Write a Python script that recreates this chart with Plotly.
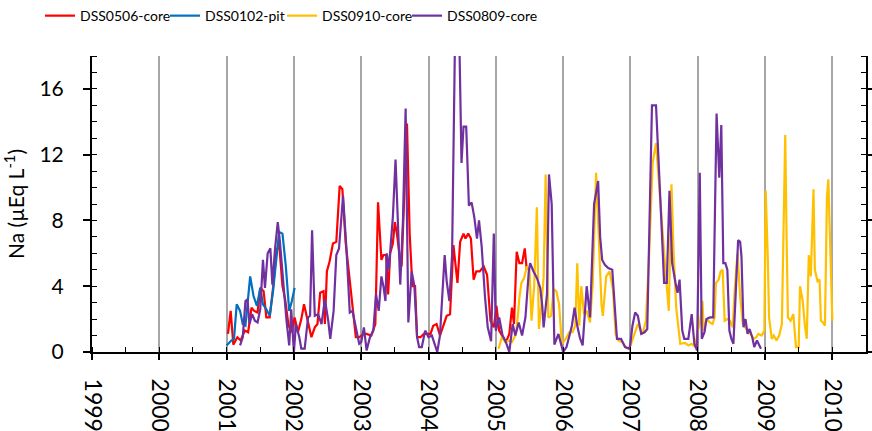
import plotly.graph_objects as go

# ---------------- data ----------------
red_x = [2001.02, 2001.06, 2001.10, 2001.16, 2001.21, 2001.27, 2001.32, 2001.37, 2001.41, 2001.46,
         2001.50, 2001.55, 2001.59, 2001.64, 2001.69, 2001.74, 2001.78, 2001.83, 2001.87, 2001.92,
         2001.97, 2002.01, 2002.06, 2002.11, 2002.15, 2002.20, 2002.26, 2002.31, 2002.35, 2002.39,
         2002.44, 2002.46, 2002.49, 2002.53, 2002.58, 2002.63, 2002.68, 2002.72, 2002.77, 2002.81,
         2002.87, 2002.92, 2002.97, 2003.04, 2003.08, 2003.15, 2003.21, 2003.25, 2003.30, 2003.33,
         2003.37, 2003.40, 2003.43, 2003.47, 2003.50, 2003.53, 2003.57, 2003.60, 2003.68, 2003.72,
         2003.76, 2003.80, 2003.83, 2003.88, 2003.93, 2003.98, 2004.03, 2004.07, 2004.12, 2004.17,
         2004.22, 2004.27, 2004.32, 2004.37, 2004.43, 2004.47, 2004.52, 2004.55, 2004.59, 2004.63,
         2004.67, 2004.71, 2004.76, 2004.82, 2004.87, 2004.92, 2004.97, 2005.01, 2005.05, 2005.10,
         2005.15, 2005.20, 2005.24, 2005.27, 2005.31, 2005.35, 2005.39, 2005.43, 2005.46]
red_y = [1.1, 2.5, 0.45, 0.9, 0.7, 1.3, 1.2, 2.7, 2.5, 2.4,
         3.9, 3.7, 2.1, 2.1, 3.9, 6.1, 6.6, 4.0, 3.2, 1.6,
         1.2, 2.1, 1.2, 2.0, 2.9, 2.0, 0.9, 1.5, 1.7, 3.6,
         3.7, 1.7, 4.9, 5.5, 6.6, 6.7, 10.1, 9.9, 6.6, 5.1,
         2.7, 0.9, 0.9, 1.1, 1.1, 1.0, 1.7, 9.1, 5.6, 5.9,
         5.9, 3.5, 6.0, 6.6, 7.9, 7.2, 5.9, 5.2, 13.9, 7.2,
         4.0, 4.0, 0.9, 0.9, 1.1, 1.1, 1.1, 1.6, 1.7, 1.0,
         1.6, 2.2, 2.3, 6.5, 4.2, 6.7, 7.2, 6.9, 7.2, 6.9,
         4.4, 4.9, 4.9, 5.2, 4.7, 1.9, 1.5, 2.8, 1.3, 0.9,
         0.6, 1.1, 2.7, 1.7, 6.1, 5.4, 5.4, 6.3, 5.0]

blue_x = [2001.00, 2001.07, 2001.11, 2001.15, 2001.20, 2001.24, 2001.28, 2001.35, 2001.40, 2001.45,
          2001.50, 2001.54, 2001.59, 2001.64, 2001.69, 2001.74, 2001.78, 2001.83, 2001.88, 2001.93,
          2001.97, 2002.01]
blue_y = [0.4, 0.7, 0.8, 2.9, 2.5, 1.7, 1.6, 4.6, 3.4, 2.8,
          3.9, 2.9, 2.6, 2.2, 3.7, 5.9, 7.3, 7.2, 5.2, 2.5,
          3.1, 3.9]

yellow_x = [2005.04, 2005.09, 2005.14, 2005.19, 2005.24, 2005.30, 2005.33, 2005.35, 2005.38, 2005.42,
            2005.46, 2005.50, 2005.53, 2005.57, 2005.61, 2005.64, 2005.68, 2005.71, 2005.74, 2005.78,
            2005.82, 2005.86, 2005.90, 2005.94, 2005.98, 2006.04, 2006.09, 2006.14, 2006.18, 2006.21,
            2006.24, 2006.27, 2006.31, 2006.35, 2006.40, 2006.44, 2006.49, 2006.53, 2006.57, 2006.59,
            2006.64, 2006.69, 2006.74, 2006.78, 2006.82, 2006.88, 2006.93, 2006.97, 2007.01, 2007.06,
            2007.11, 2007.18, 2007.23, 2007.28, 2007.33, 2007.38, 2007.43, 2007.48, 2007.52, 2007.57,
            2007.61, 2007.64, 2007.68, 2007.74, 2007.81, 2007.86, 2007.91, 2007.96, 2008.00, 2008.03,
            2008.07, 2008.09, 2008.13, 2008.18, 2008.22, 2008.25, 2008.27, 2008.31, 2008.34, 2008.37,
            2008.40, 2008.44, 2008.48, 2008.52, 2008.55, 2008.59, 2008.63, 2008.67, 2008.71, 2008.74,
            2008.78, 2008.83, 2008.87, 2008.90, 2008.95, 2008.99, 2009.01, 2009.04, 2009.06, 2009.10,
            2009.13, 2009.17, 2009.21, 2009.25, 2009.27, 2009.30, 2009.32, 2009.34, 2009.38, 2009.42,
            2009.46, 2009.50, 2009.52, 2009.56, 2009.59, 2009.62, 2009.65, 2009.68, 2009.72, 2009.74,
            2009.78, 2009.81, 2009.83, 2009.86, 2009.89, 2009.92, 2009.94, 2009.97, 2010.00]
yellow_y = [0.2, 0.9, 0.6, 0.7, 0.6, 1.1, 2.3, 3.3, 4.2, 4.5,
            5.2, 5.0, 1.9, 4.0, 8.8, 1.4, 3.0, 4.5, 10.8, 2.1,
            2.2, 3.8, 3.7, 2.9, 0.5, 0.8, 1.2, 1.2, 1.6, 5.4,
            1.6, 4.0, 2.3, 2.5, 1.8, 4.2, 10.9, 6.5, 2.9, 2.2,
            4.6, 4.9, 3.8, 1.1, 0.7, 0.6, 0.3, 0.2, 0.5, 1.1,
            1.7, 1.1, 1.9, 6.2, 11.5, 12.7, 9.8, 6.8, 5.0, 2.5,
            10.2, 6.2, 2.7, 0.5, 0.55, 0.4, 0.5, 0.3, 1.3, 1.7,
            3.1, 1.3, 2.0, 1.8, 1.7, 2.1, 4.2, 4.4, 4.9, 5.0,
            1.9, 2.0, 1.9, 1.5, 3.8, 6.0, 3.4, 1.7, 1.5, 1.3,
            1.1, 0.8, 0.9, 1.1, 1.0, 1.3, 9.8, 5.8, 2.1, 0.8,
            1.0, 0.7, 1.0, 1.7, 5.8, 13.2, 7.0, 2.1, 1.9, 2.3,
            0.3, 0.3, 4.0, 3.1, 1.7, 0.8, 5.9, 4.6, 9.9, 5.0,
            4.3, 4.4, 1.9, 1.8, 1.6, 9.4, 10.5, 6.0, 1.9]

purple_x = [2001.20, 2001.24, 2001.28, 2001.31, 2001.34, 2001.38, 2001.42, 2001.46, 2001.50, 2001.54,
            2001.57, 2001.61, 2001.65, 2001.68, 2001.72, 2001.76, 2001.79, 2001.84, 2001.89, 2001.93,
            2001.96, 2002.00, 2002.03, 2002.08, 2002.11, 2002.16, 2002.21, 2002.24, 2002.27, 2002.31,
            2002.36, 2002.41, 2002.46, 2002.51, 2002.54, 2002.59, 2002.63, 2002.67, 2002.73, 2002.78,
            2002.83, 2002.87, 2002.94, 2002.97, 2003.00, 2003.04, 2003.08, 2003.13, 2003.18, 2003.22,
            2003.26, 2003.30, 2003.33, 2003.36, 2003.38, 2003.41, 2003.47, 2003.51, 2003.58, 2003.62,
            2003.66, 2003.70, 2003.75, 2003.79, 2003.83, 2003.86, 2003.90, 2003.95, 2004.00, 2004.05,
            2004.13, 2004.17, 2004.24, 2004.27, 2004.31, 2004.35, 2004.39, 2004.42, 2004.46, 2004.49,
            2004.52, 2004.56, 2004.60, 2004.64, 2004.68, 2004.72, 2004.75, 2004.79, 2004.84, 2004.88,
            2004.93, 2004.97, 2005.00, 2005.05, 2005.10, 2005.15, 2005.20, 2005.25, 2005.29, 2005.34,
            2005.39, 2005.44, 2005.49, 2005.51, 2005.56, 2005.61, 2005.66, 2005.69, 2005.71, 2005.76,
            2005.79, 2005.83, 2005.87, 2005.93, 2006.00, 2006.05, 2006.10, 2006.13, 2006.17, 2006.21,
            2006.25, 2006.29, 2006.35, 2006.40, 2006.46, 2006.52, 2006.55, 2006.58, 2006.62, 2006.67,
            2006.73, 2006.76, 2006.80, 2006.86, 2006.92, 2006.99, 2007.03, 2007.07, 2007.11, 2007.16,
            2007.21, 2007.25, 2007.28, 2007.32, 2007.38, 2007.43, 2007.47, 2007.50, 2007.54, 2007.58,
            2007.62, 2007.67, 2007.70, 2007.73, 2007.77, 2007.80, 2007.86, 2007.91, 2007.95, 2007.99,
            2008.03, 2008.06, 2008.10, 2008.13, 2008.18, 2008.23, 2008.28, 2008.32, 2008.35, 2008.38,
            2008.41, 2008.44, 2008.47, 2008.50, 2008.53, 2008.58, 2008.60, 2008.63, 2008.65, 2008.68,
            2008.71, 2008.74, 2008.77, 2008.81, 2008.84, 2008.88, 2008.91, 2008.94]
purple_y = [0.4, 0.9, 3.1, 3.2, 1.7, 2.3, 1.9, 1.8, 2.6, 5.6,
            3.9, 6.0, 6.3, 4.1, 6.3, 7.9, 6.8, 4.2, 1.9, 0.4,
            2.6, 0.0, 1.7, 0.9, 0.2, 0.2, 2.1, 2.2, 7.4, 2.2,
            2.3, 1.7, 3.2, 1.9, 0.8, 2.5, 5.9, 6.3, 9.5, 6.3,
            2.4, 2.5, 1.1, 0.5, 0.6, 1.5, 0.1, 0.9, 1.3, 3.5,
            2.5, 4.6, 4.0, 3.1, 6.0, 5.0, 8.2, 11.7, 4.1, 8.0,
            14.8, 1.8, 4.9, 4.0, 0.9, 0.3, 0.3, 1.3, 0.9, 1.0,
            0.0, 1.0, 5.9, 4.3, 3.1, 5.9, 18.0, 21.0, 18.5, 11.5,
            13.7, 13.7, 8.9, 9.1, 8.2, 6.9, 8.0, 6.4, 3.3, 1.5,
            0.65, 7.2, 1.3, 2.1, 1.0, 0.6, 0.0, 1.7, 1.0, 1.8,
            1.0, 2.1, 4.9, 5.4, 4.9, 4.5, 3.9, 2.8, 1.5, 3.5,
            10.8, 9.0, 0.45, 1.1, 0.0, 0.3, 1.1, 1.6, 2.7, 1.6,
            0.85, 0.4, 4.0, 2.1, 9.0, 10.4, 7.0, 5.6, 5.3, 5.1,
            5.0, 2.9, 0.8, 0.8, 0.3, 0.2, 1.6, 2.4, 2.2, 1.1,
            1.2, 1.4, 7.8, 15.0, 15.0, 10.9, 7.0, 4.2, 4.2, 9.8,
            5.4, 4.2, 3.6, 4.4, 1.3, 0.8, 0.8, 2.3, 0.5, 0.1,
            10.9, 0.8, 1.2, 2.0, 2.1, 2.1, 14.5, 10.6, 13.8, 5.4,
            5.4, 5.0, 1.3, 0.8, 0.5, 5.0, 6.8, 6.7, 5.8, 1.5,
            2.0, 1.1, 1.4, 0.9, 0.3, 0.7, 0.4, 0.2]

year_ticks = list(range(1999, 2011))
y_ticks = [0, 4, 8, 12, 16]

series = [
    ("DSS0506-core", red_x, red_y, "#FF0000"),
    ("DSS0102-pit", blue_x, blue_y, "#0070C0"),
    ("DSS0910-core", yellow_x, yellow_y, "#FFC000"),
    ("DSS0809-core", purple_x, purple_y, "#7030A0"),
]

FONT = "Lato"
legend_ids = ["legend", "legend2", "legend3", "legend4"]
legend_left_px = [40, 165, 282, 407]   # left edge of each legend box (pixels from page left)
plot_left, plot_w = 92, 774

fig = go.Figure()
for (name, xs, ys, col), lid in zip(series, legend_ids):
    fig.add_trace(go.Scatter(x=xs, y=ys, mode="lines", name=name, legend=lid,
                             line=dict(color=col, width=2.2)))

legend_common = dict(orientation="h", xanchor="left", y=1.135, yanchor="middle",
                     font=dict(size=14, family=FONT), bgcolor="rgba(0,0,0,0)",
                     itemwidth=30)
legend_layout = {}
for lid, px in zip(legend_ids, legend_left_px):
    legend_layout[lid] = dict(x=(px - plot_left) / plot_w, **legend_common)

fig.update_layout(
    width=872, height=431,
    margin=dict(l=92, r=6, t=56, b=79, autoexpand=False),
    plot_bgcolor="white", paper_bgcolor="white",
    font=dict(family=FONT, color="black"),
    showlegend=True,
    **legend_layout,
)

fig.update_xaxes(
    range=[1999, 2010.5], tickmode="array", tickvals=year_ticks,
    ticktext=[str(v) for v in year_ticks], tickangle=90,
    tickfont=dict(size=23, family=FONT),
    ticks="outside", ticklen=6, tickwidth=1.5, tickcolor="black",
    showline=True, linecolor="black", linewidth=2,
    showgrid=True, gridcolor="#A6A6A6", gridwidth=1.5,
    zeroline=False, automargin=False,
    minor=dict(dtick=0.5, tick0=1999, ticks="inside", ticklen=5, tickwidth=1.2,
               tickcolor="black", showgrid=False),
    ticklabelstandoff=14,
)

fig.update_yaxes(
    range=[0, 18], tickmode="array", tickvals=y_ticks,
    tickfont=dict(size=21, family=FONT),
    ticks="outside", ticklen=7, tickwidth=1.5, tickcolor="black",
    showline=True, linecolor="black", linewidth=2, mirror="ticks",
    showgrid=False, zeroline=False, automargin=False,
    minor=dict(dtick=1, tick0=0, ticks="inside", ticklen=5, tickwidth=1.2,
               tickcolor="black", showgrid=False),
    ticklabelstandoff=15,
    title=dict(text="Na (µEq L<sup>-1</sup>)", font=dict(size=21, family=FONT), standoff=12),
)

fig.write_html("out.html")
